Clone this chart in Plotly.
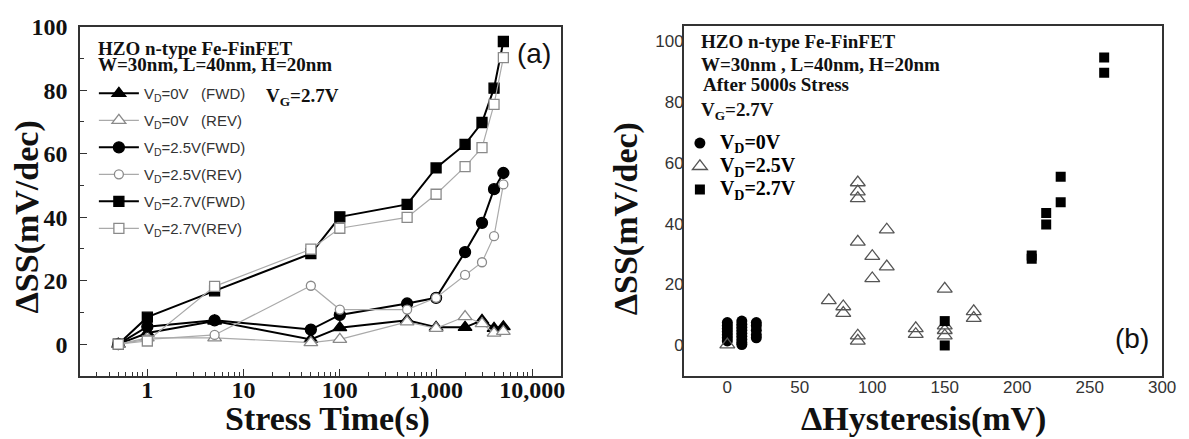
import plotly.graph_objects as go

# ---------------- Data ----------------
# Panel (a): dSS vs stress time
stress_time = [0.5, 1, 5, 50, 100, 500, 1000, 2000, 3000, 4000, 5000]
vd0_fwd = [0, 3.5, 7.3, 1.5, 5.2, 7.5, 5.3, 5.3, 7.5, 5.0, 5.5]
vd0_rev = [0, 2.0, 2.0, 0.5, 1.5, 7.0, 5.0, 8.7, 6.5, 3.5, 4.0]
vd25_fwd = [0, 5.5, 7.5, 4.6, 9.2, 12.8, 14.6, 29.0, 38.2, 48.8, 53.9]
vd25_rev = [0, 1.5, 2.9, 18.4, 10.9, 10.9, 14.6, 21.8, 25.8, 34.0, 50.3]
vd27_fwd = [0, 8.5, 16.8, 28.5, 40.1, 44.0, 55.5, 62.9, 69.8, 80.6, 95.3]
vd27_rev = [0, 1.0, 18.2, 29.9, 36.5, 39.9, 47.2, 55.9, 61.9, 75.5, 90.2]

x_tickvals = [1, 10, 100, 1000, 10000]
x_ticktext = ["1", "10", "100", "1,000", "10,000"]

# Panel (b): dSS vs dHysteresis
hys_vd0 = [0, 0, 0, 0, 0, 0, 0, 10, 10, 10, 10, 10, 10, 10, 10, 10, 20, 20, 20, 20, 20]
ss_vd0 = [7.5, 6.5, 5.5, 4.5, 3.5, 2.5, 1.5, 8.0, 7.0, 6.0, 5.0, 4.0, 3.0, 2.0, 1.0, 0.3, 7.5, 6.5, 5.0, 3.5, 2.5]
hys_vd25 = [0, 70, 80, 80, 90, 90, 90, 90, 90, 90, 100, 100, 110, 110, 130, 130, 150, 150, 150, 150, 170, 170]
ss_vd25 = [0.3, 14.8, 12.8, 10.6, 53.5, 50.5, 48.3, 34.0, 3.2, 1.5, 29.3, 22.0, 38.0, 25.9, 5.6, 3.7, 18.6, 6.5, 5.0, 3.2, 11.2, 9.0]
hys_vd27 = [150, 150, 210, 210, 220, 220, 230, 230, 260, 260]
ss_vd27 = [8.0, 0.0, 29.5, 28.5, 43.5, 39.7, 55.4, 47.0, 94.5, 89.5]

W, H = 1189, 439


def fx(p):
    return p / W


def fy(p):
    return 1 - p / H


SERIF = "Liberation Serif"
GRAY_LINE = "#aaaaaa"
GRAY_MK = "#8a8a8a"

fig = go.Figure()

left_series = [
    ("V<sub>D</sub>=0V&nbsp;&nbsp;&nbsp;(FWD)", vd0_fwd, "triangle-up", "black", "black", 2.0, 12),
    ("V<sub>D</sub>=0V&nbsp;&nbsp;&nbsp;(REV)", vd0_rev, "triangle-up", "white", GRAY_MK, 1.2, 12),
    ("V<sub>D</sub>=2.5V(FWD)", vd25_fwd, "circle", "black", "black", 2.0, 11),
    ("V<sub>D</sub>=2.5V(REV)", vd25_rev, "circle", "white", GRAY_MK, 1.2, 9),
    ("V<sub>D</sub>=2.7V(FWD)", vd27_fwd, "square", "black", "black", 2.0, 10),
    ("V<sub>D</sub>=2.7V(REV)", vd27_rev, "square", "white", GRAY_MK, 1.2, 10),
]
for i, (name, ys, sym, fill, edge, lw, ms) in enumerate(left_series):
    line_color = "black" if fill == "black" else GRAY_LINE
    fig.add_trace(go.Scatter(
        x=stress_time, y=ys, name=name, mode="lines+markers",
        line=dict(color=line_color, width=lw),
        marker=dict(symbol=sym, size=ms, color=fill, line=dict(color=edge, width=1.3)),
        xaxis="x", yaxis="y", legend="legend", legendgroup=f"g{i}",
    ))

big = "<span style='font-size:20px'>{}</span>"
fig.add_trace(go.Scatter(
    x=hys_vd0, y=ss_vd0, name=big.format("V<sub>D</sub>=0V"), mode="markers",
    marker=dict(symbol="circle", size=11, color="black"),
    xaxis="x2", yaxis="y2", legend="legend2",
))
fig.add_trace(go.Scatter(
    x=hys_vd25, y=ss_vd25, name=big.format("V<sub>D</sub>=2.5V"), mode="markers",
    marker=dict(symbol="triangle-up-open", size=13, color="#555555", line=dict(width=1.3)),
    xaxis="x2", yaxis="y2", legend="legend2",
))
fig.add_trace(go.Scatter(
    x=hys_vd27, y=ss_vd27, name=big.format("V<sub>D</sub>=2.7V"), mode="markers",
    marker=dict(symbol="square", size=10, color="black"),
    xaxis="x2", yaxis="y2", legend="legend2",
))

frame = dict(showline=True, mirror=True, linecolor="#333333", linewidth=1.6,
             showgrid=False, zeroline=False)

fig.update_layout(
    width=W, height=H,
    margin=dict(l=0, r=0, t=0, b=0),
    paper_bgcolor="white", plot_bgcolor="white",
    xaxis=dict(
        domain=[fx(81), fx(568)], type="log", range=[-0.699, 4.301],
        tickvals=x_tickvals, ticktext=x_ticktext,
        ticks="inside", ticklen=7, tickwidth=1.3, tickcolor="#333333",
        minor=dict(ticks="inside", ticklen=4, tickwidth=1, tickcolor="#333333",
                   tickvals=[m * 10 ** e for e in range(-1, 5) for m in range(2, 10)
                             if 0.2 <= m * 10 ** e <= 20000]),
        tickfont=dict(family=SERIF, size=24, color="#111111", weight="bold"),
        ticklabelstandoff=-9,
        anchor="y", **frame,
    ),
    yaxis=dict(
        domain=[fy(374), fy(14)], range=[-10, 100],
        tickvals=[0, 20, 40, 60, 80, 100],
        ticks="inside", ticklen=7, tickwidth=1.3, tickcolor="#333333",
        minor=dict(ticks="inside", ticklen=4, tickwidth=1, tickcolor="#333333", dtick=10, tick0=0),
        tickfont=dict(family=SERIF, size=24, color="#111111", weight="bold"),
        ticklabelstandoff=6,
        anchor="x", **frame,
    ),
    xaxis2=dict(
        domain=[fx(692), fx(1176)], range=[-30, 300],
        tickvals=[0, 50, 100, 150, 200, 250, 300], ticks="",
        tickfont=dict(family="Arial", size=17, color="#333333"),
        ticklabelstandoff=-5,
        anchor="y2", **frame,
    ),
    yaxis2=dict(
        domain=[fy(374), fy(13)], range=[-10, 105],
        tickvals=[0, 20, 40, 60, 80, 100], ticks="",
        tickfont=dict(family="Arial", size=17, color="#333333"),
        ticklabelstandoff=-5,
        anchor="x2", **frame,
    ),
    legend=dict(
        x=fx(95), y=fy(66), xanchor="left", yanchor="top",
        bgcolor="rgba(0,0,0,0)", itemwidth=40, tracegroupgap=4.5,
        font=dict(family="Arial", size=15, color="#333333"),
    ),
    legend2=dict(
        x=fx(688), y=fy(117), xanchor="left", yanchor="top",
        bgcolor="rgba(0,0,0,0)", itemwidth=30,
        font=dict(family=SERIF, size=15.5, color="black", weight="bold"),
    ),
    showlegend=True,
)

ann_font = dict(family=SERIF, size=19, color="#111111", weight="bold")
title_font = dict(family=SERIF, size=34, color="#111111", weight="bold")
annotations = [
    # panel (a)
    dict(text="HZO n-type Fe-FinFET", x=fx(97), y=fy(37), xanchor="left", yanchor="middle", font=ann_font),
    dict(text="W=30nm, L=40nm, H=20nm", x=fx(97), y=fy(53), xanchor="left", yanchor="middle", font=ann_font),
    dict(text="V<sub>G</sub>=2.7V", x=fx(267), y=fy(87), xanchor="left", yanchor="middle", font=ann_font),
    dict(text="(a)", x=fx(540), y=fy(42), xanchor="center", yanchor="middle",
         font=dict(family="Arial", size=28, color="#111111")),
    dict(text="ΔSS(mV/dec)", x=fx(27), y=fy(210), textangle=-90, xanchor="center", yanchor="middle",
         font=dict(family=SERIF, size=34, color="#111111", weight="bold")),
    dict(text="Stress Time(s)", x=fx(331), y=fy(418), xanchor="center", yanchor="middle", font=title_font),
    # panel (b)
    dict(text="HZO n-type Fe-FinFET", x=fx(707), y=fy(29), xanchor="left", yanchor="middle", font=ann_font),
    dict(text="W=30nm , L=40nm, H=20nm", x=fx(707), y=fy(53), xanchor="left", yanchor="middle", font=ann_font),
    dict(text="After 5000s Stress", x=fx(709), y=fy(74), xanchor="left", yanchor="middle", font=ann_font),
    dict(text="V<sub>G</sub>=2.7V", x=fx(707), y=fy(101), xanchor="left", yanchor="middle", font=ann_font),
    dict(text="(b)", x=fx(1145), y=fy(335), xanchor="center", yanchor="middle",
         font=dict(family="Arial", size=28, color="#111111")),
    dict(text="ΔSS(mV/dec)", x=fx(633), y=fy(212), textangle=-90, xanchor="center", yanchor="middle",
         font=dict(family=SERIF, size=34, color="#111111", weight="bold")),
    dict(text="ΔHysteresis(mV)", x=fx(934), y=fy(418), xanchor="center", yanchor="middle", font=title_font),
]
for a in annotations:
    a.update(xref="paper", yref="paper", showarrow=False)
fig.update_layout(annotations=annotations)

fig.write_html("out.html", config={"displayModeBar": False},
               post_script="document.body.style.margin='0px';")
